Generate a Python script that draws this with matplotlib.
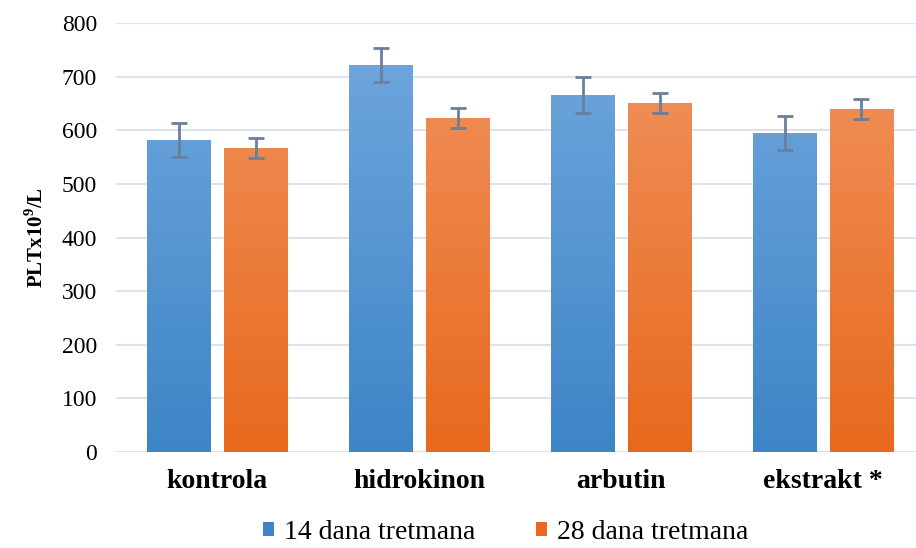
import numpy as np
import matplotlib
matplotlib.use("Agg")
import matplotlib.pyplot as plt
from matplotlib.colors import LinearSegmentedColormap

# data
categories = ["kontrola", "hidrokinon", "arbutin", "ekstrakt *"]
series_names = ["14 dana tretmana", "28 dana tretmana"]
values_14 = [582, 722, 666, 595]
errors_14 = [32, 32, 33, 32]
values_28 = [567, 623, 651, 640]
errors_28 = [19, 19, 18, 19]

plt.rcParams["font.family"] = ["Liberation Serif", "DejaVu Serif"]
plt.rcParams["mathtext.fontset"] = "custom"
plt.rcParams["mathtext.rm"] = "Liberation Serif"
plt.rcParams["mathtext.bf"] = "Liberation Serif:bold"

fig = plt.figure(figsize=(9.16, 5.48), dpi=100)
ax = fig.add_axes([0.127, 0.175, 0.873, 0.783])

x = np.arange(len(categories))
width = 0.315
offset = 0.19

# (top colour, bottom colour) for each series
gradients = [("#72a8de", "#3d85c6"), ("#f19460", "#e8691d")]
err_color = "#6a7e9e"

series = [(values_14, errors_14), (values_28, errors_28)]
for i, (vals, errs) in enumerate(series):
    pos = x + (offset if i else -offset)
    top_c, bot_c = gradients[i]
    bars = ax.bar(pos, vals, width, color=bot_c, label=series_names[i], zorder=2)
    cmap = LinearSegmentedColormap.from_list("g%d" % i, [bot_c, top_c])
    grad = np.linspace(0, 1, 256).reshape(-1, 1)
    for b in bars:
        bx = b.get_x()
        im = ax.imshow(grad, cmap=cmap, origin="lower", aspect="auto",
                       extent=[bx, bx + b.get_width(), 0, 800], zorder=2.5)
        im.set_clip_path(b)
    ax.errorbar(pos, vals, yerr=errs, fmt="none", ecolor=err_color,
                elinewidth=2, capsize=6, capthick=2, zorder=3)

ax.set_xlim(-0.5, 3.46)
ax.set_ylim(0, 800)
ax.set_yticks(range(0, 801, 100))
ax.yaxis.grid(True, color="#dfe2e7", linewidth=1.5, zorder=0)
ax.set_axisbelow(True)
for s in ax.spines.values():
    s.set_visible(False)
ax.tick_params(axis="both", length=0)
ax.tick_params(axis="y", labelsize=17, pad=14)
ax.set_xticks(x)
ax.set_xticklabels(categories, fontsize=20, fontweight="bold")
ax.tick_params(axis="x", pad=12)
ax.set_ylabel(r"PLTx10$^{\mathbf{9}}$/L", fontsize=15, fontweight="bold", labelpad=10)

handles, labels = ax.get_legend_handles_labels()
fig.legend(handles, labels, loc="lower center", bbox_to_anchor=(0.552, -0.04),
           ncol=2, frameon=False, fontsize=20, handlelength=0.4, handleheight=0.4,
           handletextpad=0.35, columnspacing=2.2)

fig.savefig("out.png", dpi=100)
